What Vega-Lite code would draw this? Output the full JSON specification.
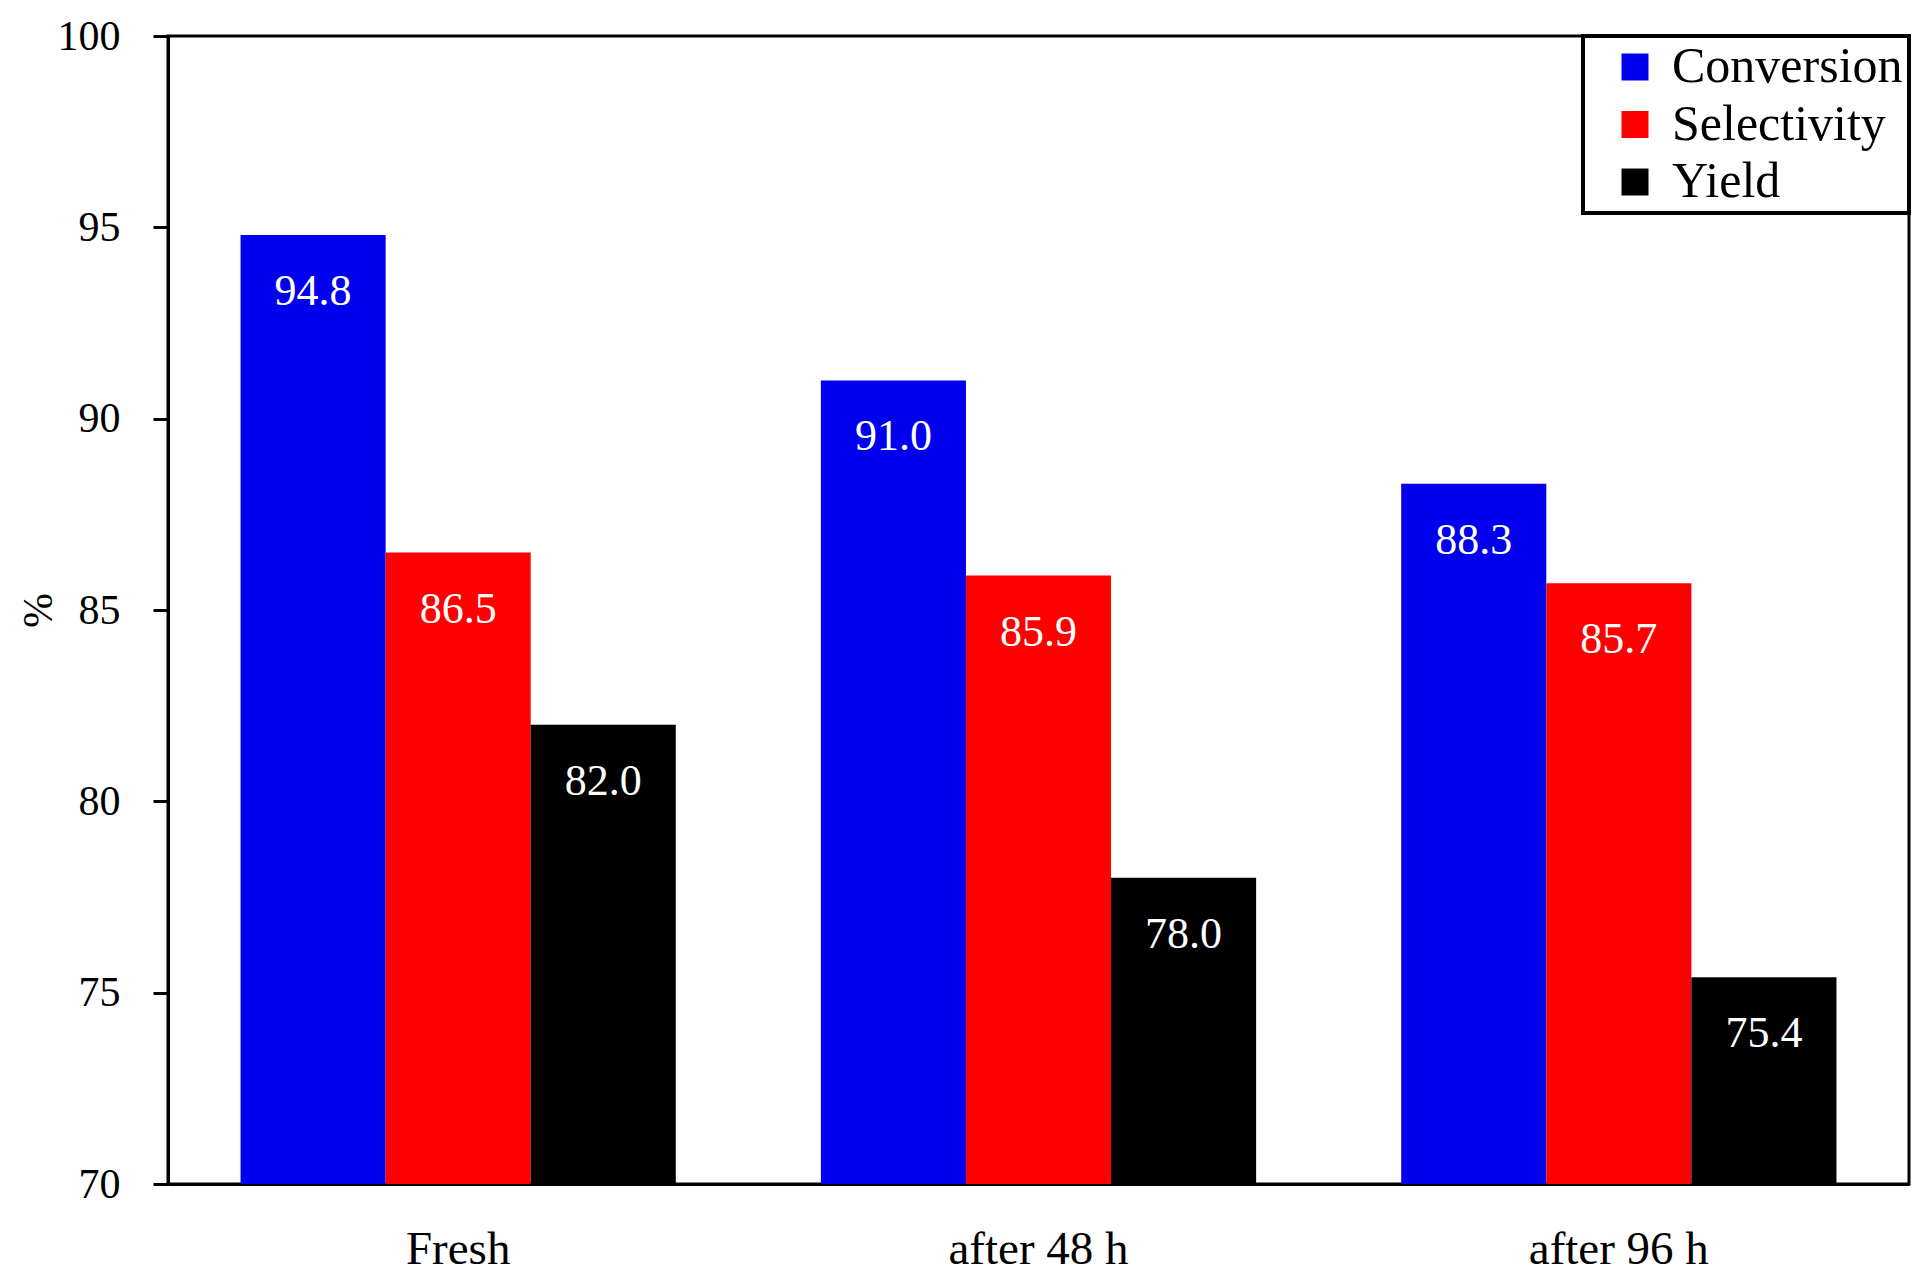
{
  "$schema": "https://vega.github.io/schema/vega-lite/v6.json",
  "autosize": {"type": "none"},
  "padding": {"left": 168, "top": 36, "right": 22, "bottom": 96},
  "width": 1741,
  "height": 1148,
  "background": "white",
  "data": {
    "values": [
      {"stage": "Fresh", "series": "Conversion", "value": 94.8},
      {"stage": "Fresh", "series": "Selectivity", "value": 86.5},
      {"stage": "Fresh", "series": "Yield", "value": 82.0},
      {"stage": "after 48 h", "series": "Conversion", "value": 91.0},
      {"stage": "after 48 h", "series": "Selectivity", "value": 85.9},
      {"stage": "after 48 h", "series": "Yield", "value": 78.0},
      {"stage": "after 96 h", "series": "Conversion", "value": 88.3},
      {"stage": "after 96 h", "series": "Selectivity", "value": 85.7},
      {"stage": "after 96 h", "series": "Yield", "value": 75.4}
    ]
  },
  "encoding": {
    "x": {
      "field": "stage",
      "type": "nominal",
      "sort": ["Fresh", "after 48 h", "after 96 h"],
      "scale": {"paddingInner": 0.25, "paddingOuter": 0.125},
      "axis": {
        "title": null,
        "labelAngle": 0,
        "ticks": false,
        "labelPadding": 42,
        "labelLimit": 500,
        "labelFont": "Liberation Serif",
        "labelFontSize": 47,
        "labelColor": "black",
        "domainColor": "black",
        "domainWidth": 3
      }
    },
    "xOffset": {"field": "series", "type": "nominal", "sort": ["Conversion", "Selectivity", "Yield"]},
    "y": {
      "field": "value",
      "type": "quantitative",
      "scale": {"domain": [70, 100], "zero": false, "nice": false},
      "axis": {
        "title": "%",
        "titleFont": "Liberation Serif",
        "titleFontSize": 42,
        "titleFontWeight": "normal",
        "titleColor": "black",
        "titlePadding": -3,
        "values": [70, 75, 80, 85, 90, 95, 100],
        "grid": false,
        "tickSize": 15,
        "tickWidth": 3,
        "tickColor": "black",
        "labelPadding": 33,
        "labelFont": "Liberation Serif",
        "labelFontSize": 42,
        "labelColor": "black",
        "domainColor": "black",
        "domainWidth": 3
      }
    }
  },
  "layer": [
    {
      "mark": {"type": "bar", "clip": true},
      "encoding": {
        "color": {
          "field": "series",
          "type": "nominal",
          "sort": ["Conversion", "Selectivity", "Yield"],
          "scale": {"domain": ["Conversion", "Selectivity", "Yield"], "range": ["#0000EE", "#FF0000", "#000000"]},
          "legend": {
            "title": null,
            "orient": "top-right",
            "offset": 0,
            "padding": 6,
            "strokeColor": "black",
            "fillColor": "white",
            "symbolType": "square",
            "symbolSize": 729,
            "symbolStrokeWidth": 0,
            "symbolOffset": 21,
            "labelFont": "Liberation Serif",
            "labelFontSize": 50,
            "labelColor": "black",
            "labelOffset": 12,
            "rowPadding": 7.5,
            "labelLimit": 400,
            "encode": {"legend": {"update": {"strokeWidth": {"value": 4}}}}
          }
        }
      }
    },
    {
      "mark": {"type": "text", "color": "white", "font": "Liberation Serif", "fontSize": 44, "baseline": "middle", "dy": 57},
      "encoding": {
        "text": {"field": "value", "type": "quantitative", "format": ".1f"}
      }
    }
  ],
  "config": {
    "view": {"stroke": "black", "strokeWidth": 3}
  }
}
